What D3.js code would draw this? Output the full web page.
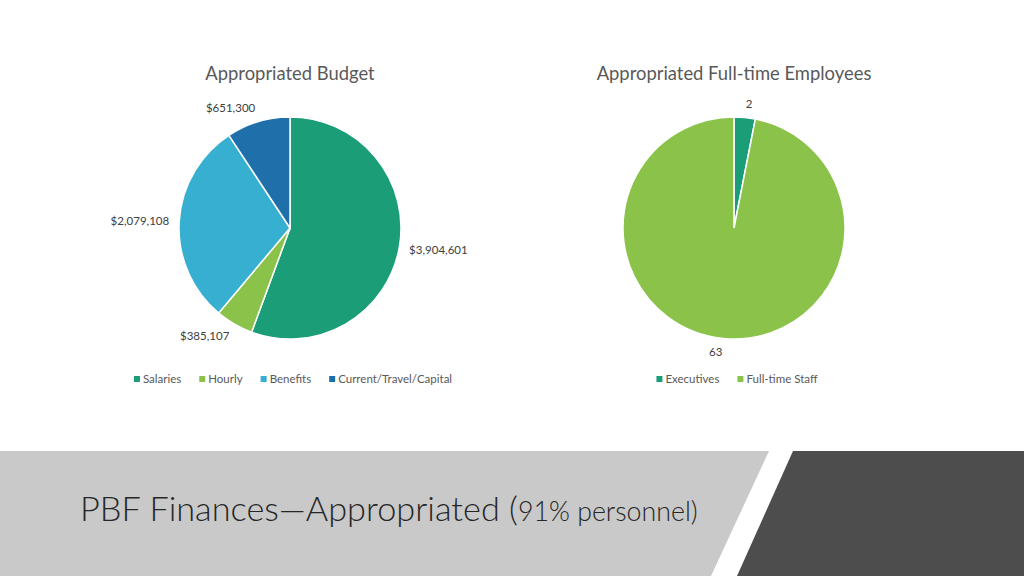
<!DOCTYPE html>
<html>
<head>
<meta charset="utf-8">
<script src="https://cdn.jsdelivr.net/npm/d3@7/dist/d3.min.js"></script>
<style>
  body { margin: 0; background: #fff; }
  svg { display: block; font-family: Lato, "Open Sans", sans-serif; }
</style>
</head>
<body>
<script>
// budget pie
var budgetCats = ["Salaries", "Hourly", "Benefits", "Current/Travel/Capital"];
var budgetVals = [3904601, 385107, 2079108, 651300];
var budgetColors = ["#1b9e77", "#8bc34a", "#36afd1", "#1f6fab"];

// staff pie
var staffCats = ["Executives", "Full-time Staff"];
var staffVals = [2, 63];
var staffColors = ["#1b9e77", "#8bc34a"];

var width = 1024, height = 576;
var radius = 111;

var svg = d3.select("body").append("svg")
    .attr("width", width)
    .attr("height", height);

function drawPie(cx, cy, title, cats, vals, colors, fmt, legendX, legendGap) {
  var g = svg.append("g").attr("transform", "translate(" + cx + "," + cy + ")");

  svg.append("text")
    .attr("x", cx).attr("y", 80)
    .attr("text-anchor", "middle")
    .attr("font-size", 18.4)
    .attr("fill", "#595959")
    .text(title);

  var pie = d3.pie().sort(null)(vals);
  var arc = d3.arc().innerRadius(0).outerRadius(radius);

  g.selectAll("path")
    .data(pie)
    .enter()
    .append("path")
    .attr("d", arc)
    .attr("fill", (d, i) => colors[i])
    .attr("stroke", "#fff")
    .attr("stroke-width", 1.5);

  // outside end labels
  g.selectAll("text.lbl")
    .data(pie)
    .enter()
    .append("text")
    .attr("class", "lbl")
    .attr("font-size", 11.5)
    .attr("fill", "#404040")
    .attr("text-anchor", "middle")
    .attr("dy", "0.35em")
    .text(d => fmt(d.data))
    .each(function(d) {
      var a = (d.startAngle + d.endAngle) / 2;
      var w = this.getComputedTextLength();
      var h = 8;
      var r = radius + 10;
      var x = Math.sin(a) * r + Math.sign(Math.sin(a)) * w / 2;
      var y = -Math.cos(a) * r - Math.cos(a) * h / 2;
      d3.select(this).attr("x", x).attr("y", y);
    });

  // legend
  var lg = svg.append("g");
  var xPos = 0;
  cats.forEach(function(c, i) {
    lg.append("rect")
      .attr("x", xPos).attr("y", -3)
      .attr("width", 6).attr("height", 6)
      .attr("fill", colors[i]);
    var t = lg.append("text")
      .attr("x", xPos + 9).attr("y", 0)
      .attr("dy", "0.35em")
      .attr("font-size", 11.5)
      .attr("fill", "#595959")
      .text(c);
    xPos += 9 + t.node().getComputedTextLength() + legendGap;
  });
  var lw = xPos - legendGap;
  lg.attr("transform", "translate(" + (legendX - lw / 2) + ",379)");
}

drawPie(290, 228, "Appropriated Budget", budgetCats, budgetVals, budgetColors,
  v => "$" + d3.format(",")(v), 293, 18);
drawPie(734, 228, "Appropriated Full-time Employees", staffCats, staffVals, staffColors,
  v => String(v), 737, 18);

// bottom banner
svg.append("polygon")
  .attr("points", "0,451 769,451 711,576 0,576")
  .attr("fill", "#c9c9c9");
svg.append("polygon")
  .attr("points", "793,451 1024,451 1024,576 737,576")
  .attr("fill", "#4d4d4d");

var title = svg.append("text")
  .attr("x", 80).attr("y", 521)
  .attr("fill", "#262626")
  .attr("font-weight", 300);
title.append("tspan").attr("font-size", 32).text("PBF Finances\u2014Appropriated (");
title.append("tspan").attr("font-size", 25).text("91% personnel)");
// fit the banner title to the reference width
var tw = title.node().getComputedTextLength();
var k = 618 / tw;
title.selectAll("tspan").attr("font-size", function() { return +d3.select(this).attr("font-size") * k; });
</script>
</body>
</html>
